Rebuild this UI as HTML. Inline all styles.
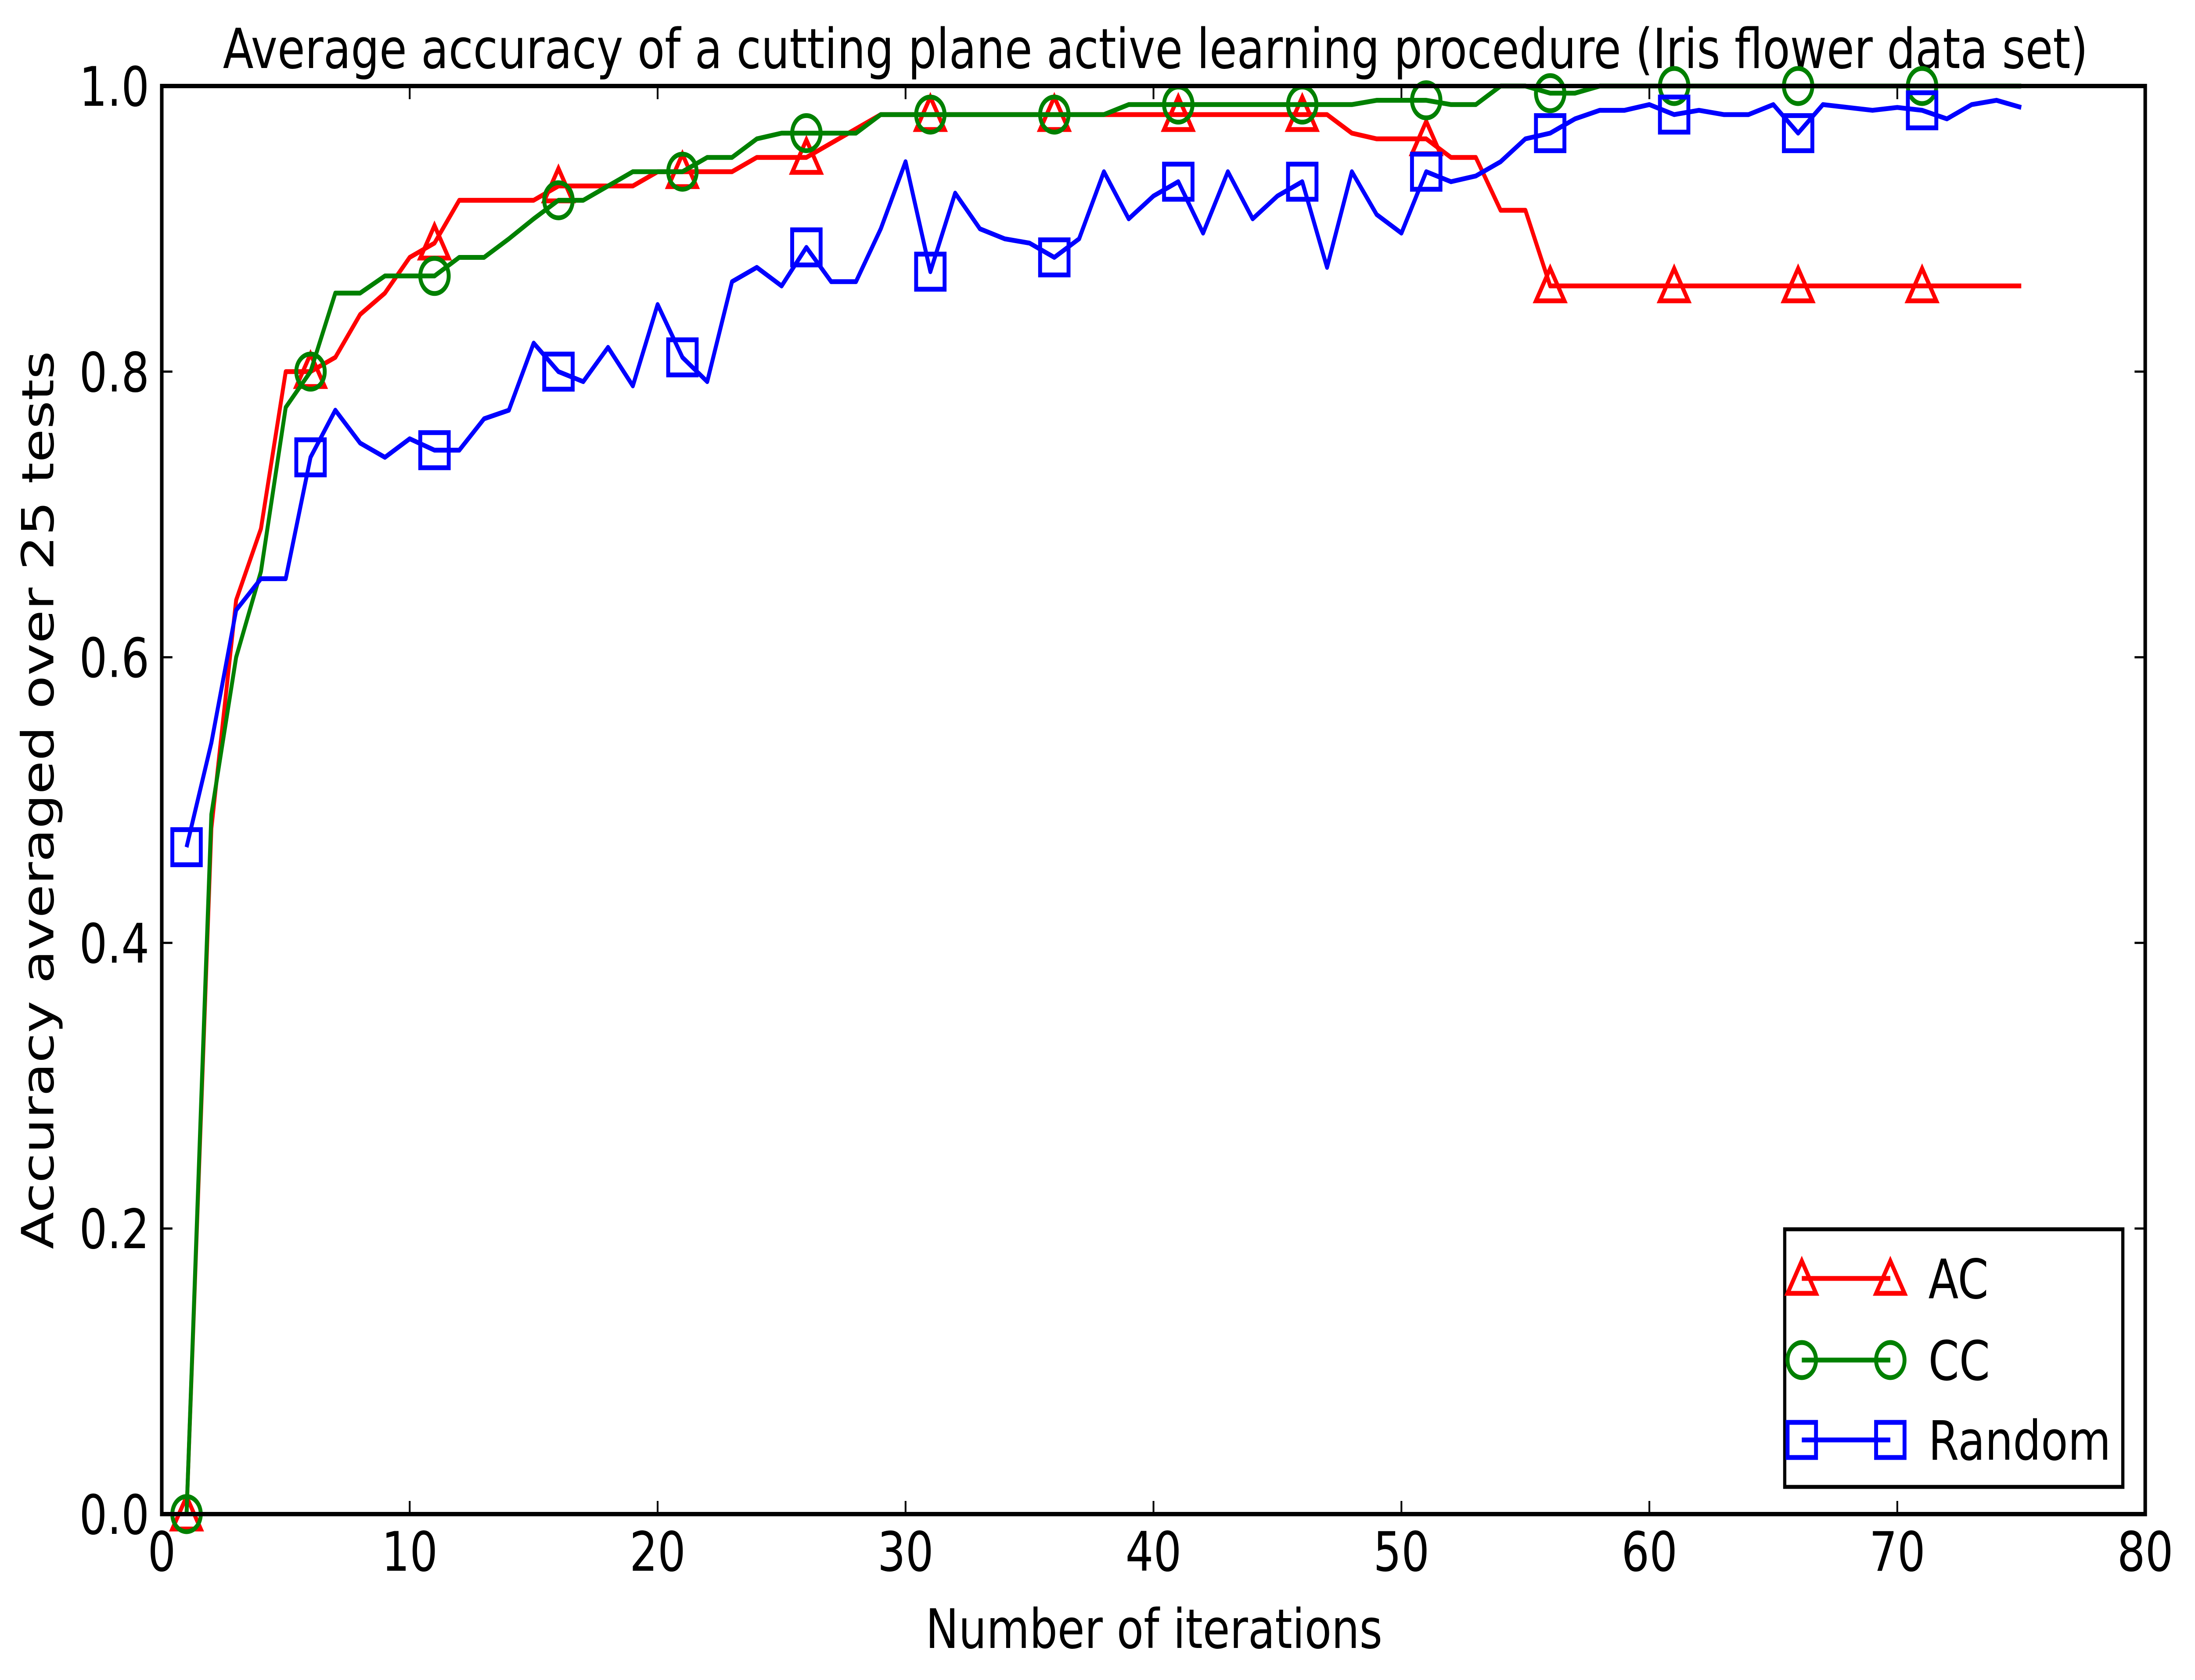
<!DOCTYPE html>
<html><head><meta charset="utf-8"><style>
html,body{margin:0;padding:0;background:#fff;width:100%;height:100%;overflow:hidden}
#chart{display:block;width:100vw;height:100vh}
svg text{font-family:"DejaVu Sans","Liberation Sans",sans-serif;fill:#000}
</style></head><body>
<svg id="chart" viewBox="0 0 6174 3828" preserveAspectRatio="none" xmlns="http://www.w3.org/2000/svg">
<rect width="6174" height="3828" fill="#fff"/>
<text x="3250" y="155" font-size="126" text-anchor="middle">Average accuracy of a cutting plane active learning procedure (Iris flower data set)</text>
<text x="3246" y="3755" font-size="124" text-anchor="middle">Number of iterations</text>
<text x="0" y="0" font-size="124" text-anchor="middle" transform="translate(150,1823) rotate(-90)">Accuracy averaged over 25 tests</text>
<g id="ticks"></g>
<g id="series"></g>
<rect x="455" y="196" width="5579" height="3254" fill="none" stroke="#000" stroke-width="10"/>
<g id="legend"></g>
</svg>
<script>
const xTicks = [0,10,20,30,40,50,60,70,80];
const yTicks = [0.0,0.2,0.4,0.6,0.8,1.0];
const yTickLabels = ["0.0","0.2","0.4","0.6","0.8","1.0"];
const iterations = Array.from({length:75},(_,i)=>i+1);
const acValues = [0,0.48,0.64,0.69,0.80,0.80,0.81,0.84,0.855,0.88,0.89,0.92,0.92,0.92,0.92,0.93,0.93,0.93,0.93,0.94,0.94,0.94,0.94,0.95,0.95,0.95,0.96,0.97,0.98,0.98,0.98,0.98,0.98,0.98,0.98,0.98,0.98,0.98,0.98,0.98,0.98,0.98,0.98,0.98,0.98,0.98,0.98,0.967,0.963,0.963,0.963,0.95,0.95,0.913,0.913,0.86,0.86,0.86,0.86,0.86,0.86,0.86,0.86,0.86,0.86,0.86,0.86,0.86,0.86,0.86,0.86,0.86,0.86,0.86,0.86];
const ccValues = [0,0.49,0.60,0.66,0.775,0.80,0.855,0.855,0.867,0.867,0.867,0.88,0.88,0.893,0.907,0.92,0.92,0.93,0.94,0.94,0.94,0.95,0.95,0.963,0.967,0.967,0.967,0.967,0.98,0.98,0.98,0.98,0.98,0.98,0.98,0.98,0.98,0.98,0.987,0.987,0.987,0.987,0.987,0.987,0.987,0.987,0.987,0.987,0.99,0.99,0.99,0.987,0.987,1.0,1.0,0.995,0.995,1.0,1.0,1.0,1.0,1.0,1.0,1.0,1.0,1.0,1.0,1.0,1.0,1.0,1.0,1.0,1.0,1.0,1.0];
const randomValues = [0.467,0.54,0.633,0.655,0.655,0.74,0.773,0.75,0.74,0.753,0.745,0.745,0.767,0.773,0.82,0.8,0.793,0.817,0.79,0.847,0.81,0.793,0.863,0.873,0.86,0.887,0.863,0.863,0.9,0.947,0.87,0.925,0.9,0.893,0.89,0.88,0.893,0.94,0.907,0.923,0.933,0.897,0.94,0.907,0.923,0.933,0.873,0.94,0.91,0.897,0.94,0.933,0.937,0.947,0.963,0.967,0.977,0.983,0.983,0.987,0.98,0.983,0.98,0.98,0.987,0.967,0.987,0.985,0.983,0.985,0.983,0.977,0.987,0.99,0.985];
const seriesNames = ["AC","CC","Random"];

const NS="http://www.w3.org/2000/svg";
const X0=455,X1=6034,Y0=3450,Y1=196;
const SW=11;
const xs=v=>X0+(v-0)/(80-0)*(X1-X0);
const ys=v=>Y0-(v-0)/(1-0)*(Y0-Y1);
function mk(tag,attrs,parent){const e=document.createElementNS(NS,tag);for(const k in attrs)e.setAttribute(k,attrs[k]);parent.appendChild(e);return e;}
const tg=document.getElementById('ticks');
xTicks.forEach(t=>{
  const x=xs(t);
  let l=mk('line',{x1:x,x2:x,y1:Y0,y2:Y0-30,stroke:'#000','stroke-width':5},tg);
  
  
  l=mk('line',{x1:x,x2:x,y1:Y1,y2:Y1+30,stroke:'#000','stroke-width':5},tg);
  
  
  const tx=mk('text',{x:x,y:3579,'font-size':124,'text-anchor':'middle'},tg);
  tx.textContent=String(t);
  
  
});
yTicks.forEach((t,i)=>{
  const y=ys(t);
  let l=mk('line',{x1:X0,x2:X0+30,y1:y,y2:y,stroke:'#000','stroke-width':5},tg);
  
  
  l=mk('line',{x1:X1,x2:X1-30,y1:y,y2:y,stroke:'#000','stroke-width':5},tg);
  
  
  const tx=mk('text',{x:420,y:y+45,'font-size':124,'text-anchor':'end'},tg);
  tx.textContent=yTickLabels[i];
  
  
});
const colors=['#ff0000','#008000','#0000ff'];
const shapes=['tri','circ','sq'];
const data=[acValues,ccValues,randomValues];
const R=40;
function marker(shape,cx,cy,color,parent){
  let e;
  if(shape==='tri') e=mk('polygon',{points:`${cx},${cy-R} ${cx-R},${cy+R*0.85} ${cx+R},${cy+R*0.85}`,fill:'none',stroke:color,'stroke-width':SW},parent);
  else if(shape==='circ') e=mk('circle',{cx:cx,cy:cy,r:R,fill:'none',stroke:color,'stroke-width':SW},parent);
  else e=mk('rect',{x:cx-R,y:cy-R,width:2*R,height:2*R,fill:'none',stroke:color,'stroke-width':SW},parent);
  return e;
}
const sg=document.getElementById('series');
data.forEach((vals,si)=>{
  const g=mk('g',{},sg);
  
  
  const pts=vals.map((v,i)=>xs(iterations[i])+','+ys(v)).join(' ');
  const pl=mk('polyline',{points:pts,fill:'none',stroke:colors[si],'stroke-width':SW,'stroke-linejoin':'round'},g);
  
  
  vals.forEach((v,i)=>{
    if(i%5!==0)return;
    const m=marker(shapes[si],xs(iterations[i]),ys(v),colors[si],g);
    
    
  });
});
const lg=document.getElementById('legend');
const box=mk('rect',{x:5020,y:2801,width:951,height:587,fill:'#fff',stroke:'#000','stroke-width':9},lg);


const ly=[2913,3099,3281];
seriesNames.forEach((n,si)=>{
  const g=mk('g',{},lg);
  
  
  mk('line',{x1:5068,x2:5317,y1:ly[si],y2:ly[si],stroke:colors[si],'stroke-width':SW},g);
  marker(shapes[si],5068,ly[si],colors[si],g);
  marker(shapes[si],5317,ly[si],colors[si],g);
  const t=mk('text',{x:5424,y:ly[si]+45,'font-size':124},g);
  t.textContent=n;
});
</script>
</body></html>
